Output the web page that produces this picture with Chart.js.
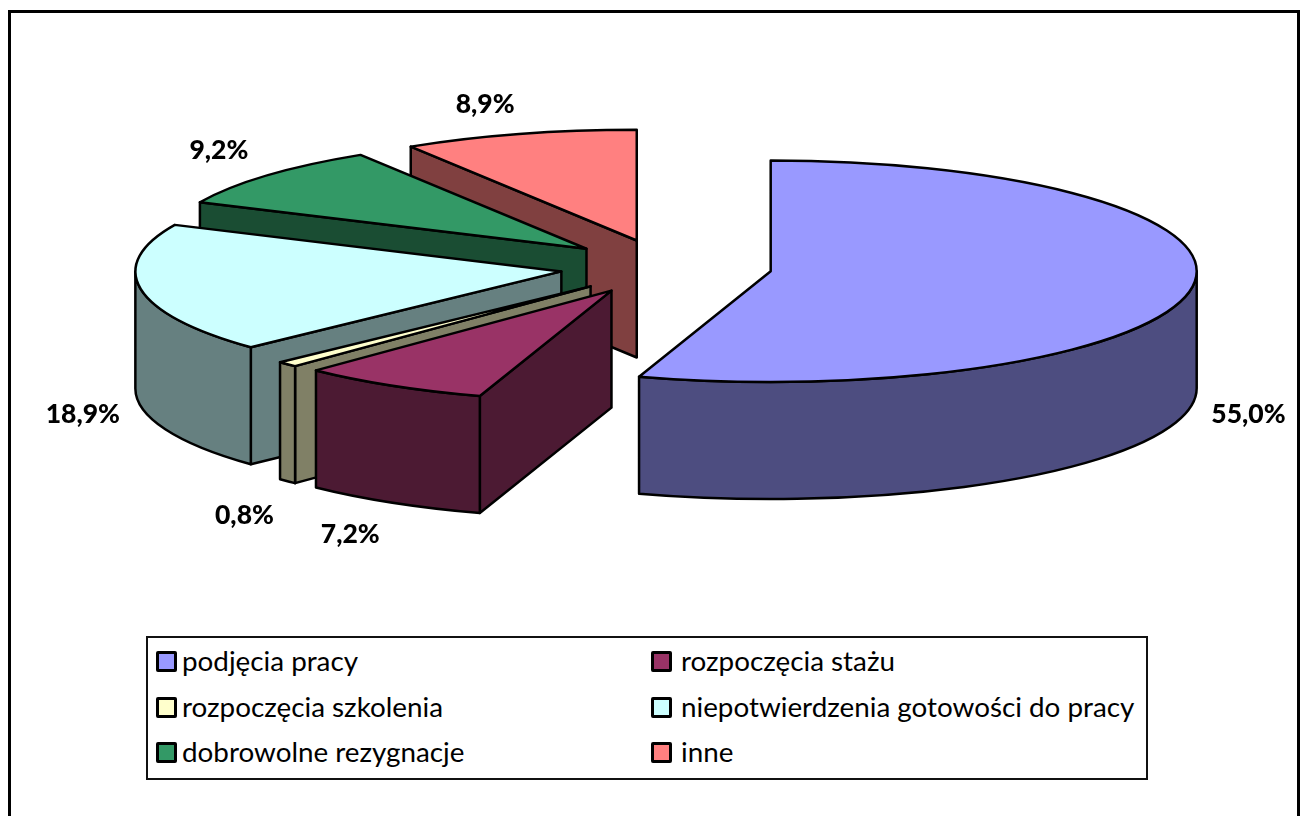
<!DOCTYPE html>
<html lang="pl">
<head>
<meta charset="utf-8">
<title>Wykres</title>
<script src="https://cdn.jsdelivr.net/npm/chart.js@4"></script>
<style>
    html, body { margin: 0; padding: 0; background: #fff; overflow: hidden; }
    #wrap { position: relative; width: 1300px; height: 816px; overflow: hidden; }
    #chart { position: absolute; left: 0; top: 0; }
    #frame { position: absolute; left: 8px; top: 10px; width: 1286px; height: 820px; border: 3px solid #000; }
    #legend {
        position: absolute; left: 146px; top: 636px; width: 998px; height: 140px;
        border: 2px solid #111; background: #fff;
        font-family: Lato, sans-serif; font-size: 27.8px; color: #000;
    }
    .item { position: absolute; white-space: nowrap; line-height: 30px; height: 30px; }
    .item i { position: absolute; left: -1px; top: 3px; width: 15px; height: 15px; border: 3px solid #000; border-radius: 2px; }
    .item span { position: absolute; left: 25px; top: -2px; }
    .item.right span { left: 29px; }
</style>
</head>
<body>
<div id="wrap">
    <div id="frame"></div>
    <canvas id="chart" width="1300" height="816"></canvas>
    <div id="legend"></div>
</div>
<script>
    const categories = ['podjęcia pracy', 'rozpoczęcia stażu', 'rozpoczęcia szkolenia',
        'niepotwierdzenia gotowości do pracy', 'dobrowolne rezygnacje', 'inne'];
    const shares = [55.0, 7.2, 0.8, 18.9, 9.2, 8.9];
    const topColors = ['#9999FF', '#993366', '#FFFFCC', '#CCFFFF', '#339966', '#FF8080'];
    const sideColors = ['#4D4D80', '#4C1A33', '#808066', '#668080', '#1A4D33', '#804040'];

    // label nudges relative to the rim point of each slice
    const labelDx = [57, -42, -43, -58, -48, -34];
    const labelDy = [9, 32, 34, 8, -25, -30];

    const tilt = 0.26;      // squash of the pie
    const depth = 117;      // height of the walls
    const explode = 106;    // how far slices are pulled out

    // Legend
    const legendEl = document.getElementById('legend');
    categories.forEach(function (name, i) {
        const col = i % 2, row = Math.floor(i / 2);
        const item = document.createElement('div');
        item.className = col === 0 ? 'item' : 'item right';
        item.style.left = (col === 0 ? 9 : 504) + 'px';
        item.style.top = (10 + row * 45.5) + 'px';
        item.innerHTML = '<i style="background:' + topColors[i] + '"></i><span>' + name + '</span>';
        legendEl.appendChild(item);
    });

    function squashY(chart, y) {
        const cy = (chart.chartArea.top + chart.chartArea.bottom) / 2;
        return cy + tilt * (y - cy);
    }

    function facePath(ctx, chart, arc, a) {
        const x0 = arc.x, y0 = squashY(chart, arc.y);
        const x1 = x0 + arc.outerRadius * Math.cos(a), y1 = y0 + arc.outerRadius * tilt * Math.sin(a);
        ctx.beginPath();
        ctx.moveTo(x0, y0);
        ctx.lineTo(x1, y1);
        ctx.lineTo(x1, y1 + depth);
        ctx.lineTo(x0, y0 + depth);
        ctx.closePath();
    }

    function paint(ctx, fill) {
        ctx.fillStyle = fill;
        ctx.strokeStyle = '#000';
        ctx.lineWidth = 2.5;
        ctx.lineJoin = 'round';
        ctx.fill();
        ctx.stroke();
    }

    // Fake 3D: walls are drawn under the library's arcs, back slices first
    const pie3d = {
        id: 'pie3d',
        afterDatasetUpdate: function (chart, args) {
            chart.getDatasetMeta(args.index).data.forEach(function (arc) {
                const mid = (arc.startAngle + arc.endAngle) / 2;
                arc.x += Math.cos(mid) * explode;
                arc.y += Math.sin(mid) * explode;
            });
        },
        beforeDatasetsDraw: function (chart) {
            const ctx = chart.ctx;
            const arcs = chart.getDatasetMeta(0).data.map(function (arc, i) { return { arc: arc, i: i }; });
            arcs.sort(function (p, q) { return p.arc.y - q.arc.y; });
            arcs.forEach(function (p) {
                const arc = p.arc, fill = sideColors[p.i];
                if (Math.cos(arc.startAngle) < -1e-6) {
                    facePath(ctx, chart, arc, arc.startAngle);
                    paint(ctx, fill);
                }
                if (Math.cos(arc.endAngle) > 1e-6) {
                    facePath(ctx, chart, arc, arc.endAngle);
                    paint(ctx, fill);
                }
                const from = Math.max(arc.startAngle, 0), to = Math.min(arc.endAngle, Math.PI);
                if (to > from) {
                    const r = arc.outerRadius, y0 = squashY(chart, arc.y);
                    ctx.beginPath();
                    ctx.ellipse(arc.x, y0, r, r * tilt, 0, from, to);
                    ctx.ellipse(arc.x, y0 + depth, r, r * tilt, 0, to, from, true);
                    ctx.closePath();
                    paint(ctx, fill);
                }
            });
        },
        beforeDatasetDraw: function (chart) {
            const ctx = chart.ctx;
            const cy = (chart.chartArea.top + chart.chartArea.bottom) / 2;
            ctx.save();
            ctx.translate(0, cy);
            ctx.scale(1, tilt);
            ctx.translate(0, -cy);
        },
        afterDatasetDraw: function (chart) {
            chart.ctx.restore();
        },
        afterDatasetsDraw: function (chart) {
            const ctx = chart.ctx;
            chart.getDatasetMeta(0).data.forEach(function (arc, i) {
                // outline of the top face, stroked unsquashed so the line stays even
                const y0 = squashY(chart, arc.y), r = arc.outerRadius;
                ctx.beginPath();
                ctx.moveTo(arc.x, y0);
                ctx.ellipse(arc.x, y0, r, r * tilt, 0, arc.startAngle, arc.endAngle);
                ctx.closePath();
                ctx.strokeStyle = '#000';
                ctx.lineWidth = 2.5;
                ctx.lineJoin = 'round';
                ctx.stroke();

                // value labels
                const mid = (arc.startAngle + arc.endAngle) / 2;
                const px = arc.x + r * Math.cos(mid);
                const py = y0 + r * tilt * Math.sin(mid) + (Math.sin(mid) > 0 ? depth : 0);
                ctx.fillStyle = '#000';
                ctx.font = '900 26.5px Lato, sans-serif';
                ctx.textAlign = 'center';
                ctx.textBaseline = 'middle';
                ctx.fillText(shares[i].toFixed(1).replace('.', ',') + '%', px + labelDx[i], py + labelDy[i]);
            });
        }
    };

    const pieChart = new Chart(document.getElementById('chart').getContext('2d'), {
        type: 'pie',
        plugins: [pie3d],
        data: {
            labels: categories,
            datasets: [{
                data: shares,
                backgroundColor: topColors,
                borderWidth: 0,
                radius: 426
            }]
        },
        options: {
            responsive: false,
            animation: false,
            layout: { padding: { left: 32, right: 0, top: 0, bottom: 282 } },
            plugins: {
                legend: { display: false },
                tooltip: { enabled: false }
            }
        }
    });
</script>
</body>
</html>
